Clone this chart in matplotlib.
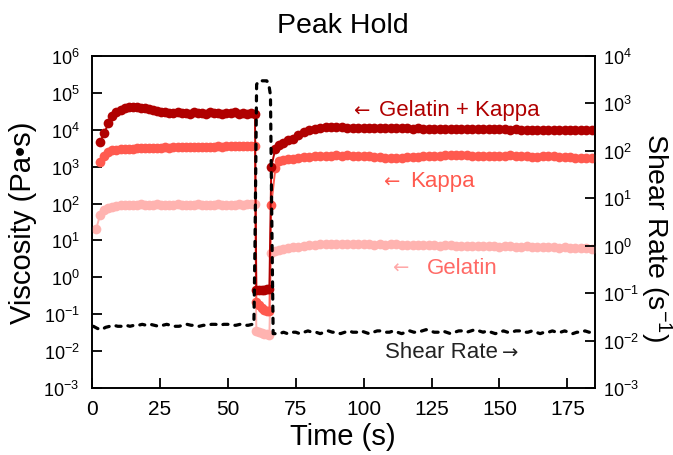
import numpy as np
import matplotlib
matplotlib.use("Agg")
import matplotlib.pyplot as plt
from matplotlib.ticker import LogLocator, FuncFormatter, NullLocator

plt.rcParams['font.family'] = ['Liberation Sans', 'DejaVu Sans']
plt.rcParams['mathtext.default'] = 'regular'

# ---------------- data ----------------
t_pre = np.arange(1.5, 60.1, 1.5)                     # 40 samples
t_hold = np.array([60.5, 61.5, 62.5, 63.5, 64.5, 65.3])
t_post = np.concatenate([[66, 67.5, 69, 70.5, 72], np.arange(74, 185, 2)])  # 61

gk_pre = [np.nan, 4800, 8000, 15000, 23000, 30000, 35000, 39000, 41000, 42000,
          41500, 40000, 38000, 36000, 34000, 32000, 30500, 29500, 28500, 28000,
          29500, 28000, 29000, 27500, 29500, 28000, 29000, 27500, 29500, 28000,
          29000, 27000, 29000, 28000, 29500, 27000, 28500, 27000, 28500, 26000]
gk_hold = [0.45, 0.45, 0.46, 0.46, 0.47, 0.47]
gk_post = [1000, 3000, 3800, 4500, 5200,
           5800, 7000, 8500, 9800, 10800, 11300, 11600, 11700, 11700, 11600,
           11500, 11500, 11400, 11300,
           11200, 11100, 11200, 11000, 11100, 10900, 11000, 10900, 10800, 10900,
           10700, 10800, 10700, 10600, 10700, 10500, 10600, 10500, 10400, 10500,
           10400, 10300, 10400, 10200, 10300, 10200, 10100, 10200, 10000, 10100,
           10000, 9900, 10000, 9900, 9800, 9900, 9800, 9700, 9800, 9700,
           9700, 9600]

kp_pre = [np.nan, 1300, 2000, 2500, 2800, 2900, 3000, 3050, 3100, 3100,
          3150, 3200, 3200, 3250, 3250, 3300, 3300, 3350, 3300, 3350,
          3400, 3350, 3400, 3450, 3400, 3450, 3500, 3450, 3500, 3500,
          3550, 3500, 3550, 3600, 3550, 3600, 3650, 3600, 3650, 3600]
kp_hold = [0.22, 0.18, 0.15, 0.13, 0.12, 0.12]
kp_post = [90, 900, 1400, 1500, 1600,
           1650, 1700, 1800, 1850, 1900, 1950, 2000, 2000, 2050, 2000,
           2050, 2000, 1950, 1950,
           1900, 1850, 1800, 1750, 1750, 1700, 1750, 1800, 1850, 1850,
           1900, 1950, 1950, 2000, 2050, 2050, 2100, 2100, 2050, 2000,
           1950, 1900, 1900, 1950, 2000, 2000, 2050, 2000, 1950, 1900,
           1850, 1850, 1900, 1950, 1900, 1850, 1800, 1800, 1750, 1750,
           1750, 1700]

gel_pre = [20, 50, 65, 75, 82, 87, 90, 92,
           93, 94, 92, 95, 93, 94, 92, 95, 93, 94, 92, 93,
           95, 93, 92, 94, 93, 95, 93, 94, 92, 94,
           95, 93, 94, 92, 94, 95, 93, 95, 96, 97]
gel_hold = [0.036, 0.033, 0.031, 0.030, 0.029, 0.028]
gel_post = [4.5, 5.2, 5.6, 5.9, 6.2,
            6.5, 6.8, 7.1, 7.4, 7.6, 7.8, 8.0, 8.1, 8.2, 8.2,
            8.0, 8.2, 8.0, 7.8,
            7.9, 7.7, 7.8, 7.6, 7.8, 8.0, 7.7, 7.5, 7.6, 7.4,
            7.5, 7.3, 7.4, 7.2, 7.3, 7.5, 7.2, 7.0, 7.1, 7.2,
            7.0, 6.9, 7.1, 7.0, 6.8, 6.9, 7.0, 6.8, 6.7, 6.9,
            6.8, 6.6, 6.7, 6.5, 6.6, 6.4, 6.5, 6.3, 6.2, 6.3,
            6.1, 6.0]

t_sr_pre = np.arange(0.5, 59.1, 1.5)   # 40
sr_pre = [0.020, 0.018, 0.017, 0.019, 0.020, 0.021, 0.020, 0.020, 0.021, 0.020,
          0.021, 0.021, 0.022, 0.021, 0.022, 0.021, 0.020, 0.021, 0.022, 0.021,
          0.020, 0.020, 0.021, 0.022, 0.021, 0.021, 0.020, 0.021, 0.021, 0.022,
          0.022, 0.021, 0.022, 0.022, 0.021, 0.021, 0.022, 0.021, 0.021, 0.022]
t_sr_peak = np.array([59.6, 60.0, 60.6, 61.3, 62.3, 63.3, 64.3, 65.0, 65.7, 66.3, 66.7])
sr_peak = [0.022, 1.0, 2500, 3000, 3000, 3000, 3000, 2700, 1500, 1.0, 0.014]
t_sr_post = np.arange(67.5, 185, 1.5)  # 79
sr_post = [0.014, 0.014, 0.015, 0.014, 0.015, 0.015, 0.014, 0.015, 0.016, 0.015,
           0.015, 0.014, 0.015, 0.016, 0.015, 0.015, 0.014, 0.015, 0.016, 0.015,
           0.015, 0.016, 0.015, 0.014, 0.015, 0.016, 0.016, 0.015, 0.015, 0.016,
           0.015, 0.014, 0.015, 0.016, 0.015, 0.015, 0.016, 0.017, 0.016, 0.015,
           0.015, 0.016, 0.015, 0.014, 0.015, 0.016, 0.016, 0.015, 0.016, 0.017,
           0.016, 0.015, 0.016, 0.015, 0.014, 0.015, 0.016, 0.015, 0.015, 0.016,
           0.016, 0.015, 0.015, 0.016, 0.015, 0.014, 0.015, 0.015, 0.016, 0.015,
           0.015, 0.016, 0.015, 0.014, 0.015, 0.015, 0.016, 0.015, 0.015]

c_gk = '#B00000'
c_kp = '#FF5A4F'
c_gel = '#FFB3B0'

def series(a, b, c):
    t = np.concatenate([t_pre, t_hold, t_post])
    v = np.concatenate([a, b, c]).astype(float)
    n = min(len(t), len(v))
    return t[:n], v[:n]

# ---------------- figure ----------------
fig = plt.figure(figsize=(6.73, 4.56), dpi=100)
ax = fig.add_axes([92/673, 1-389/456, 502.5/673, 332/456])

for vals, col in [((gel_pre, gel_hold, gel_post), c_gel),
                  ((kp_pre, kp_hold, kp_post), c_kp),
                  ((gk_pre, gk_hold, gk_post), c_gk)]:
    t, v = series(*vals)
    ax.plot(t, v, color=col, lw=1.4, marker='o', ms=7, mew=0, zorder=3)

ax.set_yscale('log')
ax.set_ylim(1e-3, 1e6)
ax.set_xlim(0, 185)
ax.set_xticks([0, 25, 50, 75, 100, 125, 150, 175])

fmt = FuncFormatter(lambda v, p: r'$\mathregular{10^{%d}}$' % int(round(np.log10(v))))
ax.yaxis.set_major_locator(LogLocator(base=10, numticks=20))
ax.yaxis.set_major_formatter(fmt)
ax.yaxis.set_minor_locator(NullLocator())

ax2 = ax.twinx()
t_sr = np.concatenate([t_sr_pre, t_sr_peak, t_sr_post])
v_sr = np.concatenate([sr_pre, sr_peak, sr_post])
n = min(len(t_sr), len(v_sr))
ax2.plot(t_sr[:n], v_sr[:n], color='black', lw=2.3, linestyle=(0, (1.6, 2.2)),
         dash_capstyle='round', solid_joinstyle='round')
ax2.set_yscale('log')
ax2.set_ylim(1e-3, 1e4)
ax2.yaxis.set_major_locator(LogLocator(base=10, numticks=20))
ax2.yaxis.set_major_formatter(fmt)
ax2.yaxis.set_minor_locator(NullLocator())

for a in (ax, ax2):
    for s in a.spines.values():
        s.set_linewidth(1.2)
ax.tick_params(axis='y', direction='in', length=7, width=1.3, labelsize=13, pad=9)
ax.tick_params(axis='x', direction='in', length=7, width=1.3, labelsize=15, pad=8)
ax2.tick_params(axis='y', direction='in', length=7, width=1.3, labelsize=13, pad=6)

ax.set_xlabel('Time (s)', fontsize=21, labelpad=3)
ax.set_ylabel('Viscosity (Pa•s)', fontsize=21, labelpad=5)
ax2.set_ylabel(r'Shear Rate (s$^{-1}$)', fontsize=20.5, rotation=270,
               va='bottom', ha='center')
ax2.yaxis.set_label_coords(1.086, 0.455)
ax.set_title('Peak Hold', fontsize=20.5, pad=17)

tr = ax.transAxes
arrow_font = ['DejaVu Sans']
ax.text(0.519, 0.838, '\u2190', color=c_gk, fontsize=14, family=arrow_font,
        transform=tr, ha='left', va='center')
ax.text(0.571, 0.838, 'Gelatin + Kappa', color=c_gk, fontsize=16,
        transform=tr, ha='left', va='center')
ax.text(0.579, 0.624, '\u2190', color=c_kp, fontsize=14, family=arrow_font,
        transform=tr, ha='left', va='center')
ax.text(0.633, 0.624, 'Kappa', color=c_kp, fontsize=16,
        transform=tr, ha='left', va='center')
ax.text(0.598, 0.364, '\u2190', color='#FFA8A8', fontsize=14, family=arrow_font,
        transform=tr, ha='left', va='center')
ax.text(0.666, 0.364, 'Gelatin', color='#FF6A66', fontsize=16,
        transform=tr, ha='left', va='center')
ax.text(0.583, 0.109, 'Shear Rate', color='#222222', fontsize=16,
        transform=tr, ha='left', va='center')
ax.text(0.815, 0.109, '\u2192', color='#222222', fontsize=14, family=arrow_font,
        transform=tr, ha='left', va='center')

fig.savefig('out.png', dpi=100)
